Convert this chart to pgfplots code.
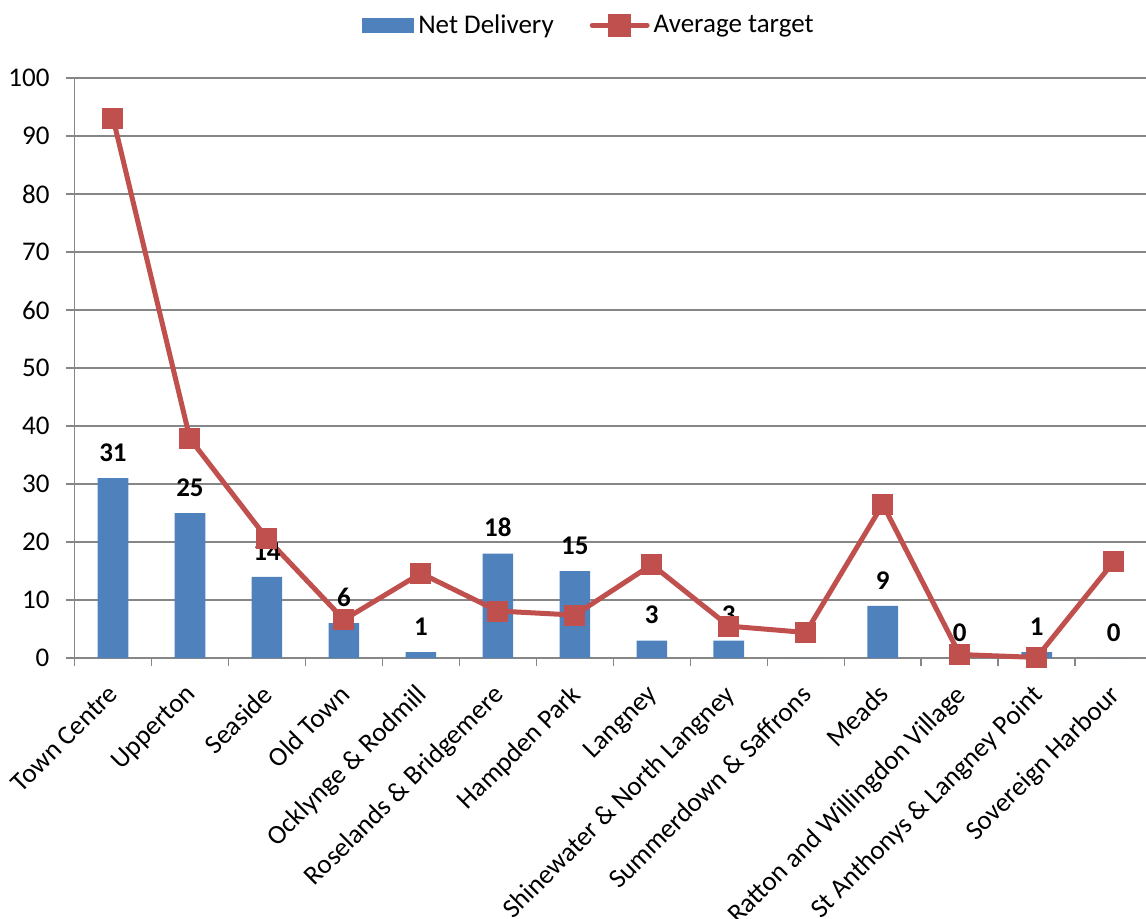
\documentclass[border=0pt]{standalone}
\usepackage{pgfplots}
\pgfplotsset{compat=1.18}
\usepackage{fontspec}
\setmainfont{Carlito}
\definecolor{barblue}{HTML}{4F81BD}
\definecolor{linered}{HTML}{C0504D}
\definecolor{gridgray}{HTML}{868686}

\begin{document}
\begin{tikzpicture}
\useasboundingbox (0,0) rectangle (573pt,459pt);
\begin{axis}[
  at={(37.25pt,130pt)}, anchor=south west,
  scale only axis, width=535.75pt, height=290pt,
  xmin=-0.5, xmax=13.42, ymin=0, ymax=100,
  ytick={0,10,...,100},
  xtick={0,...,13},
  xticklabels={Town Centre, Upperton, Seaside, Old Town, Ocklynge \& Rodmill,
    Roselands \& Bridgemere, Hampden Park, Langney, Shinewater \& North Langney,
    Summerdown \& Saffrons, Meads, Ratton and Willingdon Village,
    St Anthonys \& Langney Point, Sovereign Harbour},
  x tick label style={xshift=-3pt, yshift=-5.5pt, rotate=45, anchor=north east,
    inner sep=2pt, font=\fontsize{13.5}{16}\selectfont},
  y tick label style={xshift=-5pt, font=\fontsize{13.5}{16}\selectfont},
  /pgf/number format/assume math mode=true,
  axis lines*=left,
  axis line style={gridgray, line width=0.75pt},
  ymajorgrids, grid style={gridgray, line width=0.75pt},
  tick align=outside,
  major tick length=4pt,
  ytick style={gridgray, line width=0.75pt},
  xtick style={draw=none},
  extra x ticks={-0.5,0.5,...,13.5},
  extra x tick labels={},
  extra x tick style={xtick style={draw=gridgray, line width=0.75pt}},
  legend style={at={(0.481,1.091)}, anchor=center, draw=none, fill=none,
    legend columns=2, font=\fontsize{13.5}{16}\selectfont,
    /tikz/every even column/.append style={column sep=16pt}},
  legend cell align=left,
  clip=false,
]
% Net delivery per area
\addplot[ybar, bar width=15.3pt, fill=barblue, draw=none,
  nodes near coords,
  nodes near coords style={font=\bfseries\fontsize{13.5}{16}\selectfont,
    anchor=south, yshift=4.8pt, text=black},
  legend image code/.code={\fill[barblue] (0pt,-3.75pt) rectangle (26pt,3.75pt);}]
  coordinates {(0,31) (1,25) (2,14) (3,6) (4,1) (5,18) (6,15) (7,3) (8,3)
    (9,0) (10,9) (11,0) (12,1) (13,0)};
\addlegendentry{Net Delivery}
% Average target per area
\addplot[linered, line width=2.5pt, mark=square*, mark size=5pt,
  mark options={solid, fill=linered, draw=linered, line width=0pt},
  legend image code/.code={
    \draw[linered, line width=2.5pt, line cap=round] (0pt,0pt) -- (27.5pt,0pt);
    \fill[linered] (9.25pt,-4.5pt) rectangle (18.25pt,4.5pt);}]
  coordinates {(0,93.1) (1,37.8) (2,20.6) (3,6.6) (4,14.6) (5,8.1) (6,7.4)
    (7,16.1) (8,5.5) (9,4.4) (10,26.5) (11,0.6) (12,0.1) (13,16.6)};
\addlegendentry{Average target}
\end{axis}
\end{tikzpicture}
\end{document}
